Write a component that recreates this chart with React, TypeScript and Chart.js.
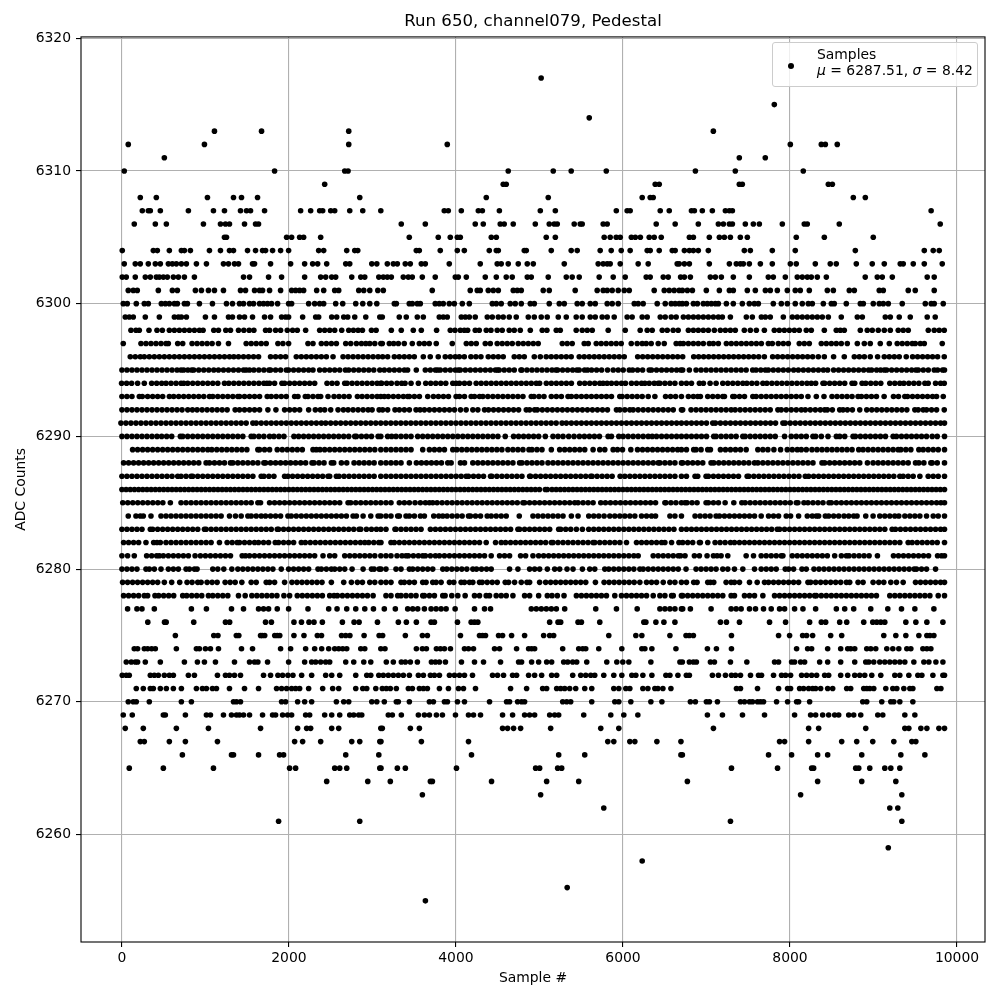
import React, { useEffect, useRef } from "react";
import { Chart, registerables } from "chart.js";
Chart.register(...registerables);

const xTicks = [0, 2000, 4000, 6000, 8000, 10000];
const yTicks = [6260, 6270, 6280, 6290, 6300, 6310, 6320];

// Sample numbers, one list per ADC code.
const s6317 = [5020];
const s6315 = [7812];
const s6314 = [5596];
const s6313 = [1108, 1672, 2716, 7082];
const s6312 = [76, 988, 2716, 3896, 8004, 8375, 8423, 8566];
const s6311 = [508, 7393, 7704];
const s6310 = [28, 1828, 2668, 2708, 4626, 5165, 5380, 5800, 6867, 7345, 8159];
const s6309 = [2428, 4566, 4602, 6386, 6434, 7393, 7429, 8459, 8507];
const s6308 = [220, 412, 1024, 1336, 1432, 1624, 2848, 4363, 5105, 6230, 6326, 6362, 8758, 8902];
const s6307 = [244, 316, 340, 460, 796, 1096, 1228, 1420, 1492, 1540, 1708, 2140, 2260, 2368, 2404, 2500, 2548, 2728, 2884, 3100, 3860, 3908, 4064, 4268, 4316, 4520, 5010, 5190, 5920, 6050, 6086, 6446, 6554, 6820, 6855, 6950, 7070, 7226, 7274, 7310, 9690];
const s6306 = [148, 400, 532, 976, 1180, 1240, 1288, 1468, 1600, 1636, 3345, 3633, 4231, 4327, 4530, 4578, 4686, 4950, 5117, 5177, 5213, 5416, 5488, 5512, 5763, 5811, 6398, 6625, 6902, 7142, 7202, 7274, 7310, 7465, 7561, 7633, 7908, 8171, 8207, 8590, 9799];
const s6305 = [1228, 1252, 1972, 2032, 2128, 2176, 2380, 3441, 3788, 3932, 4016, 4052, 4423, 4483, 5081, 5190, 5775, 5847, 5919, 5967, 6100, 6148, 6208, 6314, 6374, 6458, 6795, 6843, 7034, 7154, 7214, 7286, 7405, 7489, 8075, 8411, 8997];
const s6304 = [4, 376, 424, 568, 712, 748, 820, 1048, 1180, 1288, 1336, 1504, 1600, 1684, 1720, 1804, 1900, 1996, 2356, 2416, 2692, 2788, 2824, 3525, 3561, 3812, 4016, 4100, 4399, 4483, 4507, 4818, 4842, 5141, 5380, 5452, 5727, 5859, 5979, 6086, 6290, 6326, 6434, 6590, 6625, 6735, 6795, 6843, 6902, 7022, 7453, 7525, 7788, 8063, 8782, 9608, 9715, 9787];
const s6303 = [28, 160, 220, 316, 400, 460, 556, 604, 652, 712, 772, 892, 1012, 1216, 1276, 1348, 1396, 1564, 1588, 1780, 2020, 2188, 2284, 2344, 2452, 2680, 2728, 2992, 3052, 3178, 3250, 3298, 3393, 3453, 3585, 3633, 3920, 4291, 4494, 4542, 4626, 4746, 4854, 4926, 5297, 5703, 5763, 5811, 5847, 5967, 6182, 6302, 6649, 6673, 6735, 6795, 7034, 7274, 7357, 7405, 7441, 7513, 7645, 7788, 8004, 8075, 8303, 8482, 8554, 8794, 8985, 9129, 9320, 9356, 9476, 9608, 9823];
const s6302 = [4, 52, 160, 280, 340, 412, 448, 496, 544, 616, 676, 748, 868, 1456, 1528, 1756, 1912, 2188, 2380, 2440, 2512, 2560, 2752, 2860, 2908, 3076, 3130, 3178, 3226, 3369, 3429, 3477, 3597, 3752, 3992, 4028, 4124, 4351, 4483, 4602, 4674, 4854, 4902, 5105, 5321, 5392, 5476, 5715, 5883, 6027, 6278, 6326, 6482, 6542, 6690, 6735, 6807, 7046, 7106, 7178, 7321, 7513, 7740, 7800, 7944, 8087, 8147, 8207, 8255, 8327, 8435, 8901, 9045, 9105, 9225, 9643, 9727];
const s6301 = [76, 136, 184, 436, 604, 664, 880, 952, 1036, 1108, 1216, 1420, 1480, 1588, 1648, 1684, 1768, 1900, 2032, 2080, 2128, 2176, 2332, 2416, 2548, 2596, 2836, 2896, 2968, 3064, 3130, 3716, 4171, 4255, 4291, 4387, 4447, 4507, 4686, 4734, 4782, 5045, 5117, 5428, 5691, 5763, 5811, 5871, 5943, 6015, 6075, 6374, 6494, 6554, 6613, 6673, 6711, 6771, 6831, 6998, 7154, 7274, 7321, 7489, 7585, 7705, 7764, 7848, 7968, 8063, 8123, 8231, 8447, 8519, 8710, 8770, 9069, 9117, 9416, 9500, 9727];
const s6300 = [16, 64, 172, 268, 316, 472, 520, 568, 628, 664, 748, 784, 928, 1084, 1252, 1324, 1408, 1456, 1528, 1576, 1648, 1696, 1744, 1792, 1864, 1996, 2032, 2236, 2308, 2368, 2416, 2560, 2644, 2800, 2884, 2968, 3052, 3262, 3286, 3441, 3477, 3537, 3573, 3752, 3800, 3848, 3920, 3980, 4076, 4160, 4435, 4483, 4542, 4650, 4710, 4782, 4890, 4938, 5117, 5237, 5297, 5452, 5512, 5608, 5668, 5811, 5871, 5943, 6135, 6182, 6242, 6410, 6506, 6578, 6625, 6673, 6711, 6759, 6843, 6891, 6962, 7010, 7058, 7106, 7142, 7238, 7321, 7429, 7513, 7573, 7621, 7800, 7896, 7968, 8063, 8147, 8219, 8267, 8399, 8495, 8530, 8674, 8842, 8878, 8997, 9069, 9117, 9177, 9344, 9620, 9691, 9727, 9835];
const s6299 = [40, 88, 136, 280, 448, 628, 676, 712, 772, 1000, 1108, 1276, 1324, 1408, 1468, 1564, 1708, 1780, 1912, 1960, 1996, 2164, 2320, 2356, 2512, 2572, 2656, 2704, 2788, 2920, 3088, 3118, 3321, 3405, 3537, 3609, 3800, 3848, 3896, 4064, 4112, 4160, 4231, 4375, 4435, 4507, 4566, 4638, 4722, 4866, 4938, 5021, 5093, 5225, 5321, 5440, 5512, 5608, 5668, 5751, 5811, 5895, 6050, 6110, 6230, 6290, 6446, 6506, 6578, 6637, 6723, 6783, 6843, 6902, 6962, 7022, 7082, 7142, 7190, 7286, 7477, 7549, 7657, 7705, 7764, 7920, 8028, 8087, 8147, 8207, 8267, 8327, 8387, 8459, 8614, 8806, 8866, 9141, 9201, 9308, 9440, 9643, 9739];
const s6298 = [108, 168, 208, 324, 420, 484, 568, 628, 688, 748, 808, 868, 928, 972, 1100, 1156, 1244, 1300, 1396, 1460, 1524, 1580, 1720, 1768, 1840, 1900, 1980, 2044, 2100, 2200, 2368, 2428, 2488, 2548, 2632, 2716, 2772, 2828, 2880, 2988, 3044, 3226, 3345, 3489, 3585, 3768, 3932, 3988, 4052, 4100, 4140, 4231, 4279, 4363, 4419, 4494, 4554, 4638, 4698, 4770, 4890, 5033, 5089, 5201, 5249, 5440, 5512, 5572, 5632, 5823, 6027, 6206, 6290, 6350, 6470, 6530, 6601, 6661, 6783, 6843, 6902, 6962, 7022, 7094, 7166, 7226, 7286, 7345, 7453, 7525, 7597, 7693, 7812, 7872, 7932, 7992, 8052, 8111, 8195, 8255, 8411, 8554, 8602, 8650, 8842, 8925, 8985, 9057, 9129, 9201, 9296, 9356, 9416, 9656, 9727, 9787, 9847];
const s6297 = [16, 228, 288, 348, 408, 468, 528, 556, 668, 728, 840, 900, 960, 1020, 1080, 1156, 1276, 1488, 1548, 1608, 1668, 1728, 1868, 1928, 1996, 2228, 2288, 2388, 2448, 2508, 2568, 2680, 2740, 2808, 2868, 2920, 2968, 3028, 3100, 3118, 3202, 3254, 3310, 3381, 3477, 3561, 3621, 3680, 3764, 3956, 4124, 4183, 4243, 4351, 4411, 4494, 4554, 4614, 4674, 4746, 4806, 4866, 4926, 4985, 5273, 5332, 5392, 5536, 5584, 5680, 5739, 5799, 5859, 5919, 5979, 6099, 6170, 6230, 6278, 6338, 6422, 6494, 6637, 6685, 6723, 6783, 6843, 6902, 6962, 7034, 7082, 7142, 7238, 7297, 7357, 7417, 7477, 7537, 7597, 7657, 7741, 7788, 7860, 7920, 7980, 8111, 8171, 8231, 8375, 8435, 8495, 8554, 8614, 8686, 8806, 8890, 8961, 9081, 9189, 9284, 9344, 9404, 9464, 9500, 9560, 9608, 9823];
const s6296 = [100, 160, 220, 268, 328, 388, 448, 508, 568, 628, 688, 748, 808, 868, 928, 988, 1048, 1108, 1168, 1228, 1288, 1340, 1396, 1456, 1516, 1576, 1636, 1780, 1840, 1900, 1960, 2088, 2148, 2208, 2268, 2328, 2388, 2448, 2528, 2648, 2708, 2768, 2828, 2888, 2948, 3008, 3068, 3122, 3182, 3262, 3321, 3381, 3441, 3501, 3609, 3692, 3788, 3872, 3932, 3992, 4040, 4100, 4179, 4239, 4299, 4387, 4447, 4507, 4566, 4698, 4758, 4818, 4938, 5010, 5081, 5141, 5201, 5261, 5321, 5380, 5476, 5536, 5596, 5656, 5715, 5775, 5835, 5895, 5955, 6015, 6176, 6236, 6296, 6356, 6416, 6476, 6536, 6596, 6655, 6715, 6847, 6906, 6966, 7026, 7086, 7146, 7206, 7266, 7325, 7385, 7445, 7505, 7565, 7625, 7693, 7792, 7852, 7912, 7972, 8032, 8092, 8151, 8211, 8271, 8339, 8411, 8522, 8650, 8770, 8830, 8890, 8961, 9049, 9129, 9189, 9249, 9308, 9392, 9468, 9528, 9588, 9648, 9707, 9767, 9847];
const s6295 = [0, 60, 120, 180, 240, 300, 360, 420, 480, 540, 600, 660, 708, 740, 790, 836, 860, 920, 980, 1040, 1100, 1156, 1216, 1276, 1336, 1396, 1456, 1488, 1528, 1580, 1640, 1700, 1760, 1780, 1840, 1900, 1968, 1996, 2056, 2116, 2176, 2236, 2288, 2368, 2428, 2488, 2548, 2608, 2676, 2716, 2776, 2836, 2896, 2956, 3016, 3088, 3142, 3202, 3262, 3322, 3382, 3421, 3525, 3633, 3693, 3753, 3780, 3812, 3872, 3932, 3992, 4028, 4052, 4112, 4172, 4232, 4292, 4352, 4412, 4472, 4499, 4518, 4578, 4638, 4698, 4778, 4790, 4850, 4910, 4970, 5030, 5090, 5150, 5197, 5217, 5277, 5337, 5397, 5448, 5476, 5540, 5576, 5624, 5684, 5744, 5815, 5883, 5943, 6003, 6075, 6115, 6175, 6235, 6314, 6342, 6402, 6462, 6522, 6582, 6642, 6693, 6715, 6795, 6875, 6935, 6995, 7055, 7115, 7175, 7235, 7295, 7355, 7415, 7475, 7553, 7593, 7650, 7705, 7740, 7800, 7860, 7920, 7980, 8044, 8100, 8160, 8220, 8280, 8340, 8400, 8451, 8522, 8582, 8642, 8702, 8762, 8822, 8882, 8941, 8977, 9037, 9085, 9129, 9157, 9217, 9277, 9337, 9397, 9457, 9508, 9536, 9596, 9656, 9727, 9767, 9827, 9850];
const s6294 = [-4, 56, 116, 188, 268, 356, 416, 476, 528, 588, 648, 708, 740, 788, 848, 908, 968, 1028, 1088, 1148, 1228, 1280, 1340, 1400, 1460, 1520, 1580, 1640, 1700, 1736, 1768, 1828, 1916, 1948, 2008, 2068, 2128, 2188, 2248, 2308, 2456, 2516, 2576, 2668, 2696, 2756, 2816, 2876, 2936, 2996, 3056, 3100, 3110, 3170, 3226, 3294, 3350, 3390, 3462, 3550, 3638, 3698, 3758, 3818, 3878, 3962, 4002, 4042, 4102, 4162, 4242, 4302, 4362, 4422, 4482, 4542, 4602, 4662, 4722, 4782, 4842, 4902, 4962, 5002, 5082, 5142, 5202, 5262, 5322, 5382, 5482, 5542, 5602, 5662, 5722, 5762, 5810, 5862, 5922, 5982, 6030, 6102, 6162, 6222, 6262, 6314, 6374, 6422, 6442, 6502, 6562, 6622, 6700, 6760, 6820, 6915, 6963, 7043, 7115, 7195, 7255, 7315, 7375, 7435, 7483, 7543, 7603, 7675, 7723, 7783, 7843, 7903, 7963, 8023, 8083, 8143, 8203, 8255, 8307, 8395, 8415, 8475, 8535, 8595, 8655, 8743, 8775, 8863, 8907, 8967, 9027, 9087, 9195, 9255, 9315, 9363, 9423, 9483, 9543, 9615, 9655, 9743, 9803, 9847];
const s6293 = [0, 60, 120, 208, 244, 308, 368, 428, 488, 568, 620, 680, 740, 800, 860, 920, 980, 1048, 1088, 1148, 1208, 1268, 1328, 1388, 1408, 1468, 1528, 1588, 1648, 1740, 1788, 1848, 1908, 1968, 2068, 2108, 2196, 2228, 2288, 2348, 2380, 2468, 2540, 2600, 2660, 2720, 2820, 2876, 2936, 2996, 3056, 3100, 3142, 3190, 3250, 3310, 3370, 3422, 3442, 3502, 3562, 3662, 3730, 3790, 3850, 3910, 4002, 4042, 4102, 4182, 4222, 4282, 4322, 4382, 4442, 4502, 4562, 4622, 4682, 4742, 4802, 4902, 4934, 4994, 5054, 5142, 5202, 5262, 5342, 5382, 5442, 5502, 5562, 5622, 5682, 5742, 5802, 5862, 5962, 5990, 6050, 6110, 6170, 6230, 6302, 6382, 6510, 6570, 6630, 6700, 6783, 6843, 6895, 6927, 7015, 7075, 7135, 7195, 7215, 7315, 7335, 7395, 7455, 7555, 7595, 7655, 7715, 7775, 7835, 7895, 7955, 8015, 8075, 8135, 8215, 8315, 8407, 8503, 8563, 8623, 8683, 8743, 8815, 8855, 8915, 8975, 9035, 9127, 9239, 9299, 9375, 9407, 9467, 9527, 9587, 9647, 9707, 9755, 9835];
const s6292 = [0, 60, 120, 180, 240, 300, 360, 420, 480, 540, 600, 660, 720, 788, 844, 900, 960, 1020, 1080, 1140, 1200, 1260, 1356, 1408, 1468, 1528, 1588, 1648, 1748, 1844, 1948, 2008, 2068, 2128, 2236, 2316, 2376, 2428, 2500, 2588, 2652, 2708, 2768, 2828, 2888, 2948, 2996, 3080, 3122, 3182, 3270, 3322, 3382, 3442, 3522, 3570, 3622, 3682, 3742, 3802, 3862, 3922, 3982, 4054, 4122, 4202, 4262, 4342, 4390, 4450, 4510, 4570, 4630, 4690, 4750, 4842, 4882, 4942, 4974, 5034, 5094, 5154, 5214, 5274, 5334, 5394, 5454, 5514, 5574, 5634, 5694, 5754, 5814, 5922, 5962, 6022, 6082, 6122, 6182, 6242, 6302, 6362, 6422, 6482, 6542, 6602, 6700, 6715, 6815, 6875, 6935, 6995, 7055, 7115, 7175, 7235, 7295, 7343, 7403, 7463, 7523, 7583, 7643, 7703, 7763, 7855, 7895, 7955, 8015, 8075, 8135, 8183, 8243, 8303, 8363, 8415, 8447, 8507, 8595, 8635, 8687, 8747, 8835, 8919, 8979, 9039, 9099, 9159, 9219, 9279, 9339, 9399, 9495, 9535, 9595, 9635, 9695, 9755, 9847];
const s6291 = [-12, 48, 108, 168, 228, 288, 348, 408, 468, 528, 588, 648, 708, 768, 828, 888, 948, 1008, 1068, 1128, 1188, 1248, 1308, 1368, 1428, 1488, 1568, 1608, 1668, 1728, 1788, 1848, 1908, 1968, 2028, 2088, 2148, 2208, 2268, 2328, 2388, 2440, 2500, 2560, 2620, 2680, 2740, 2800, 2860, 2920, 2980, 3040, 3100, 3160, 3220, 3280, 3340, 3400, 3460, 3520, 3580, 3640, 3700, 3760, 3820, 3880, 3940, 4000, 4060, 4120, 4180, 4240, 4300, 4360, 4420, 4480, 4540, 4600, 4660, 4720, 4780, 4840, 4900, 4960, 5020, 5080, 5140, 5200, 5270, 5322, 5382, 5442, 5502, 5562, 5622, 5682, 5742, 5802, 5862, 5922, 5982, 6042, 6102, 6162, 6222, 6282, 6342, 6402, 6462, 6522, 6582, 6642, 6700, 6760, 6820, 6880, 6940, 7000, 7075, 7107, 7167, 7227, 7287, 7347, 7407, 7467, 7527, 7587, 7647, 7707, 7767, 7827, 7915, 7943, 8003, 8063, 8123, 8183, 8243, 8303, 8363, 8423, 8483, 8543, 8603, 8663, 8723, 8783, 8843, 8903, 8963, 9023, 9083, 9143, 9203, 9263, 9323, 9383, 9443, 9503, 9563, 9623, 9683, 9743, 9803, 9850];
const s6290 = [0, 60, 120, 180, 240, 300, 360, 420, 476, 536, 596, 700, 728, 788, 848, 908, 968, 1028, 1088, 1148, 1208, 1268, 1328, 1388, 1448, 1548, 1580, 1640, 1700, 1768, 1820, 1880, 1940, 2060, 2116, 2176, 2236, 2296, 2356, 2416, 2476, 2536, 2596, 2656, 2716, 2788, 2808, 2868, 2928, 2988, 3068, 3100, 3182, 3230, 3282, 3342, 3402, 3462, 3542, 3602, 3662, 3722, 3782, 3842, 3902, 3962, 4022, 4082, 4142, 4202, 4262, 4322, 4382, 4442, 4502, 4590, 4690, 4750, 4810, 4870, 4930, 4990, 5070, 5162, 5222, 5282, 5350, 5414, 5478, 5538, 5598, 5658, 5718, 5822, 5862, 5950, 6002, 6062, 6122, 6182, 6242, 6302, 6350, 6402, 6462, 6522, 6582, 6642, 6700, 6760, 6820, 6880, 6940, 7000, 7087, 7115, 7175, 7235, 7295, 7355, 7435, 7463, 7523, 7583, 7643, 7703, 7763, 7823, 7935, 8015, 8075, 8135, 8195, 8275, 8307, 8375, 8455, 8555, 8595, 8655, 8755, 8783, 8843, 8903, 8963, 9023, 9083, 9143, 9235, 9275, 9335, 9395, 9455, 9515, 9575, 9635, 9703, 9763, 9850];
const s6289 = [128, 188, 248, 308, 368, 428, 488, 548, 608, 668, 728, 788, 848, 908, 968, 1028, 1076, 1136, 1196, 1256, 1316, 1376, 1436, 1496, 1628, 1648, 1708, 1768, 1860, 1920, 1980, 2040, 2100, 2160, 2288, 2328, 2372, 2428, 2488, 2548, 2608, 2668, 2728, 2788, 2848, 2908, 2968, 3028, 3100, 3162, 3222, 3282, 3342, 3402, 3462, 3602, 3682, 3742, 3802, 3862, 3962, 4010, 4070, 4130, 4190, 4250, 4310, 4370, 4430, 4490, 4550, 4622, 4682, 4742, 4802, 4874, 4910, 4970, 5030, 5142, 5242, 5302, 5362, 5422, 5482, 5542, 5642, 5722, 5782, 5882, 5934, 5994, 6094, 6174, 6234, 6294, 6354, 6414, 6474, 6534, 6594, 6654, 6700, 6760, 6847, 6875, 6935, 7015, 7047, 7167, 7227, 7287, 7347, 7407, 7475, 7615, 7675, 7735, 7807, 7887, 7967, 8027, 8087, 8135, 8195, 8263, 8323, 8383, 8443, 8503, 8563, 8623, 8683, 8743, 8823, 8875, 8935, 8995, 9055, 9115, 9175, 9235, 9295, 9327, 9387, 9447, 9543, 9595, 9655, 9715, 9775, 9850];
const s6288 = [20, 80, 140, 200, 260, 320, 380, 440, 500, 560, 620, 680, 740, 800, 860, 920, 1008, 1048, 1108, 1168, 1228, 1300, 1328, 1388, 1448, 1508, 1568, 1628, 1700, 1720, 1780, 1840, 1900, 1960, 2020, 2080, 2140, 2200, 2276, 2300, 2360, 2420, 2508, 2536, 2628, 2692, 2780, 2840, 2900, 2960, 3020, 3100, 3162, 3222, 3282, 3342, 3442, 3526, 3586, 3646, 3706, 3766, 3826, 3902, 3942, 4054, 4102, 4202, 4262, 4322, 4382, 4442, 4502, 4562, 4622, 4682, 4762, 4790, 4850, 4910, 4970, 5030, 5102, 5162, 5222, 5282, 5342, 5402, 5462, 5522, 5582, 5642, 5702, 5762, 5822, 5882, 5942, 6002, 6062, 6122, 6182, 6242, 6302, 6362, 6422, 6442, 6502, 6562, 6622, 6700, 6715, 6775, 6835, 6895, 6955, 7055, 7087, 7147, 7207, 7267, 7327, 7387, 7447, 7507, 7575, 7615, 7675, 7735, 7795, 7855, 7915, 7975, 8035, 8095, 8155, 8215, 8275, 8383, 8415, 8475, 8535, 8595, 8655, 8715, 8775, 8835, 8927, 8995, 9055, 9115, 9175, 9235, 9295, 9355, 9415, 9503, 9543, 9603, 9687, 9703, 9763, 9850];
const s6287 = [0, 60, 120, 180, 240, 300, 360, 420, 480, 540, 600, 668, 708, 768, 828, 848, 908, 968, 1028, 1088, 1148, 1208, 1268, 1328, 1388, 1448, 1508, 1568, 1668, 1700, 1760, 1820, 1948, 1988, 2044, 2104, 2164, 2224, 2284, 2344, 2404, 2468, 2488, 2568, 2600, 2660, 2720, 2780, 2840, 2900, 2960, 3020, 3100, 3162, 3222, 3282, 3342, 3402, 3462, 3522, 3582, 3642, 3702, 3762, 3822, 3882, 3942, 4002, 4062, 4122, 4150, 4210, 4270, 4330, 4414, 4430, 4490, 4550, 4610, 4670, 4730, 4790, 4882, 4894, 4954, 5014, 5074, 5134, 5194, 5254, 5314, 5374, 5434, 5494, 5554, 5614, 5630, 5690, 5750, 5810, 5870, 5966, 6022, 6082, 6142, 6202, 6262, 6322, 6382, 6442, 6502, 6562, 6622, 6700, 6760, 6863, 6895, 6995, 7023, 7083, 7143, 7203, 7263, 7323, 7383, 7487, 7507, 7567, 7627, 7687, 7747, 7807, 7867, 7927, 7987, 8047, 8107, 8183, 8223, 8283, 8343, 8403, 8463, 8523, 8583, 8643, 8703, 8763, 8823, 8883, 8943, 9003, 9063, 9123, 9183, 9243, 9315, 9355, 9415, 9475, 9555, 9655, 9715, 9775, 9850];
const s6286 = [0, 50, 100, 150, 200, 250, 300, 350, 400, 450, 500, 550, 600, 650, 700, 750, 800, 850, 900, 950, 1000, 1050, 1100, 1150, 1200, 1250, 1300, 1350, 1400, 1450, 1500, 1550, 1600, 1650, 1700, 1750, 1800, 1850, 1900, 1950, 2000, 2050, 2100, 2150, 2200, 2250, 2300, 2350, 2400, 2450, 2500, 2550, 2600, 2650, 2700, 2750, 2800, 2850, 2900, 2950, 3000, 3050, 3100, 3150, 3200, 3250, 3300, 3350, 3400, 3450, 3500, 3550, 3600, 3650, 3700, 3750, 3800, 3850, 3900, 3950, 4000, 4050, 4100, 4150, 4200, 4250, 4300, 4350, 4400, 4450, 4500, 4550, 4600, 4650, 4700, 4750, 4800, 4850, 4900, 4950, 5000, 5070, 5094, 5150, 5200, 5250, 5300, 5350, 5400, 5450, 5500, 5550, 5600, 5650, 5700, 5750, 5800, 5850, 5900, 5950, 6000, 6050, 6100, 6150, 6200, 6250, 6300, 6350, 6400, 6450, 6500, 6550, 6600, 6650, 6700, 6750, 6800, 6850, 6900, 6950, 7000, 7050, 7100, 7150, 7200, 7250, 7300, 7350, 7400, 7450, 7500, 7550, 7600, 7650, 7700, 7750, 7800, 7850, 7900, 7950, 8000, 8050, 8100, 8150, 8200, 8250, 8300, 8350, 8400, 8450, 8500, 8550, 8600, 8650, 8700, 8750, 8800, 8850, 8900, 8950, 9000, 9050, 9100, 9150, 9200, 9250, 9300, 9350, 9400, 9450, 9500, 9550, 9600, 9650, 9700, 9750, 9800, 9850];
const s6285 = [10, 70, 130, 190, 250, 310, 370, 430, 490, 580, 708, 768, 828, 888, 948, 1008, 1068, 1128, 1188, 1248, 1308, 1368, 1428, 1488, 1548, 1628, 1660, 1768, 1828, 1888, 1948, 2008, 2068, 2128, 2188, 2248, 2308, 2368, 2428, 2488, 2548, 2608, 2708, 2740, 2800, 2860, 2920, 2980, 3040, 3100, 3162, 3222, 3322, 3382, 3442, 3510, 3574, 3634, 3682, 3722, 3774, 3834, 3894, 3954, 4014, 4074, 4134, 4194, 4254, 4314, 4374, 4434, 4494, 4554, 4614, 4674, 4734, 4802, 4822, 4882, 4942, 5002, 5062, 5122, 5182, 5242, 5302, 5362, 5422, 5462, 5522, 5582, 5642, 5734, 5790, 5850, 5910, 5970, 6030, 6090, 6150, 6210, 6270, 6330, 6390, 6502, 6514, 6574, 6634, 6700, 6743, 6767, 6827, 6887, 6995, 7023, 7083, 7143, 7223, 7327, 7423, 7463, 7523, 7583, 7643, 7703, 7763, 7823, 7883, 7943, 8003, 8075, 8095, 8167, 8215, 8275, 8335, 8395, 8467, 8495, 8555, 8615, 8675, 8735, 8795, 8855, 8915, 8975, 9035, 9095, 9155, 9215, 9275, 9335, 9395, 9455, 9515, 9575, 9635, 9695, 9755, 9807, 9850];
const s6284 = [76, 168, 220, 256, 348, 468, 528, 588, 648, 708, 768, 828, 888, 948, 1008, 1068, 1128, 1188, 1288, 1360, 1428, 1508, 1548, 1608, 1668, 1720, 1780, 1840, 1900, 1988, 2028, 2088, 2148, 2208, 2268, 2328, 2388, 2448, 2508, 2568, 2628, 2688, 2768, 2808, 2888, 2980, 3068, 3100, 3162, 3222, 3302, 3322, 3402, 3442, 3502, 3574, 3622, 3734, 3794, 3842, 3894, 3954, 4014, 4074, 4150, 4174, 4234, 4294, 4374, 4422, 4482, 4542, 4602, 4758, 4922, 4982, 5042, 5102, 5162, 5222, 5282, 5382, 5462, 5590, 5650, 5710, 5774, 5842, 5902, 5962, 6022, 6082, 6142, 6222, 6282, 6342, 6390, 6562, 6622, 6700, 6863, 6923, 6983, 7043, 7115, 7155, 7215, 7275, 7335, 7395, 7455, 7515, 7575, 7655, 7743, 7803, 7863, 7955, 8007, 8103, 8207, 8267, 8315, 8343, 8423, 8463, 8523, 8583, 8647, 8703, 8763, 8803, 8907, 8995, 9075, 9135, 9195, 9255, 9303, 9375, 9435, 9495, 9555, 9635, 9715, 9775, 9850];
const s6283 = [0, 60, 120, 180, 240, 340, 368, 428, 488, 548, 608, 668, 728, 788, 848, 908, 988, 1008, 1068, 1128, 1188, 1248, 1308, 1368, 1428, 1488, 1548, 1608, 1668, 1728, 1788, 1860, 1876, 1936, 1996, 2056, 2116, 2176, 2236, 2296, 2356, 2416, 2476, 2536, 2596, 2656, 2716, 2776, 2840, 2860, 2928, 2988, 3048, 3100, 3162, 3270, 3282, 3342, 3402, 3462, 3522, 3582, 3694, 3754, 3814, 3874, 3934, 3994, 4054, 4114, 4174, 4234, 4294, 4354, 4414, 4474, 4534, 4594, 4654, 4742, 4762, 4822, 4882, 4942, 5002, 5062, 5122, 5230, 5254, 5314, 5374, 5442, 5514, 5590, 5650, 5710, 5770, 5830, 5890, 5950, 6010, 6070, 6130, 6190, 6250, 6310, 6370, 6430, 6490, 6550, 6610, 6700, 6760, 6820, 6880, 6940, 7000, 7060, 7120, 7180, 7240, 7300, 7360, 7420, 7480, 7540, 7600, 7660, 7720, 7780, 7847, 7875, 7935, 7995, 8055, 8115, 8175, 8235, 8295, 8355, 8415, 8475, 8535, 8595, 8655, 8715, 8775, 8835, 8895, 8955, 9015, 9075, 9135, 9223, 9263, 9323, 9383, 9443, 9503, 9563, 9623, 9683, 9743, 9803, 9850];
const s6282 = [20, 80, 140, 200, 288, 380, 420, 460, 528, 588, 648, 708, 768, 828, 888, 948, 1008, 1068, 1168, 1260, 1320, 1380, 1408, 1468, 1528, 1588, 1636, 1696, 1756, 1836, 1876, 1936, 1996, 2056, 2148, 2196, 2256, 2316, 2376, 2436, 2496, 2556, 2616, 2676, 2736, 2796, 2856, 2908, 2956, 3016, 3076, 3102, 3222, 3262, 3322, 3382, 3442, 3502, 3562, 3622, 3682, 3742, 3802, 3862, 3922, 3982, 4042, 4102, 4162, 4222, 4282, 4362, 4474, 4542, 4594, 4654, 4714, 4774, 4834, 4894, 4954, 5014, 5074, 5142, 5162, 5222, 5282, 5342, 5402, 5462, 5522, 5582, 5642, 5662, 5722, 5782, 5842, 5902, 5962, 6042, 6162, 6222, 6282, 6342, 6402, 6462, 6502, 6582, 6670, 6715, 6775, 6835, 6915, 6927, 7015, 7103, 7163, 7223, 7287, 7335, 7395, 7455, 7515, 7575, 7635, 7695, 7755, 7815, 7875, 7935, 7995, 8055, 8115, 8175, 8235, 8295, 8355, 8415, 8475, 8535, 8595, 8655, 8715, 8775, 8835, 8895, 8955, 9015, 9075, 9135, 9195, 9255, 9315, 9415, 9463, 9523, 9583, 9643, 9703, 9763, 9850];
const s6281 = [0, 68, 148, 296, 356, 416, 448, 496, 556, 616, 676, 736, 796, 876, 940, 1000, 1060, 1120, 1180, 1240, 1300, 1440, 1480, 1528, 1588, 1648, 1708, 1768, 1828, 1888, 1948, 2008, 2068, 2128, 2188, 2248, 2308, 2408, 2488, 2548, 2668, 2728, 2788, 2848, 2908, 2968, 3028, 3100, 3162, 3222, 3294, 3354, 3402, 3430, 3490, 3550, 3602, 3634, 3694, 3754, 3802, 3862, 3922, 3982, 4042, 4102, 4162, 4222, 4282, 4342, 4422, 4522, 4582, 4642, 4774, 4834, 4922, 4990, 5050, 5110, 5170, 5230, 5290, 5350, 5410, 5470, 5530, 5590, 5650, 5710, 5770, 5830, 5890, 5950, 6010, 6070, 6130, 6182, 6362, 6422, 6482, 6542, 6602, 6662, 6690, 6743, 6855, 6915, 7007, 7083, 7127, 7175, 7255, 7475, 7563, 7655, 7715, 7775, 7835, 7895, 7915, 8027, 8087, 8147, 8207, 8267, 8327, 8387, 8447, 8535, 8615, 8675, 8707, 8767, 8827, 8887, 8947, 9047, 9239, 9299, 9359, 9419, 9479, 9539, 9599, 9659, 9767, 9815, 9850];
const s6280 = [0, 60, 120, 180, 288, 328, 388, 468, 556, 616, 676, 768, 808, 868, 900, 1088, 1148, 1220, 1316, 1388, 1448, 1508, 1568, 1628, 1688, 1748, 1808, 1908, 1996, 2056, 2116, 2176, 2236, 2348, 2388, 2448, 2508, 2548, 2608, 2668, 2756, 2888, 2988, 3020, 3080, 3102, 3162, 3282, 3342, 3442, 3482, 3542, 3602, 3662, 3722, 3842, 3890, 3950, 4010, 4070, 4130, 4202, 4246, 4306, 4366, 4422, 4642, 4742, 4882, 4942, 5002, 5094, 5182, 5242, 5330, 5402, 5514, 5602, 5662, 5782, 5830, 5890, 5950, 6010, 6070, 6130, 6202, 6242, 6302, 6362, 6422, 6482, 6542, 6602, 6662, 6755, 6875, 6935, 6995, 7055, 7115, 7195, 7255, 7335, 7435, 7575, 7655, 7715, 7775, 7835, 7943, 7983, 8043, 8143, 8195, 8287, 8347, 8407, 8467, 8527, 8587, 8647, 8707, 8767, 8827, 8887, 8947, 9007, 9067, 9127, 9187, 9247, 9307, 9367, 9427, 9487, 9515, 9575, 9635, 9743];
const s6279 = [8, 68, 128, 188, 248, 308, 368, 428, 508, 596, 692, 780, 840, 908, 948, 1020, 1080, 1140, 1236, 1296, 1356, 1436, 1548, 1608, 1728, 1768, 1828, 1948, 2036, 2096, 2156, 2216, 2276, 2336, 2396, 2508, 2656, 2748, 2820, 2880, 2968, 3028, 3102, 3162, 3222, 3342, 3382, 3442, 3502, 3602, 3642, 3722, 3762, 3822, 3922, 3974, 4062, 4102, 4162, 4202, 4282, 4314, 4374, 4434, 4494, 4590, 4630, 4702, 4782, 4850, 4882, 5002, 5074, 5134, 5194, 5254, 5314, 5374, 5434, 5494, 5554, 5670, 5774, 5834, 5894, 5954, 6014, 6074, 6134, 6202, 6282, 6342, 6402, 6482, 6562, 6622, 6700, 6760, 6847, 6887, 7015, 7047, 7087, 7235, 7295, 7335, 7395, 7515, 7607, 7695, 7743, 7803, 7863, 7923, 7983, 8043, 8103, 8215, 8247, 8307, 8367, 8427, 8487, 8547, 8607, 8675, 8715, 8815, 8875, 8995, 9063, 9123, 9207, 9275, 9355, 9503, 9563, 9623, 9683, 9743, 9803, 9850];
const s6278 = [20, 80, 140, 200, 268, 308, 396, 440, 500, 560, 620, 728, 776, 836, 896, 956, 1036, 1088, 1148, 1208, 1268, 1396, 1476, 1556, 1616, 1676, 1736, 1796, 1856, 1940, 2008, 2100, 2160, 2220, 2280, 2340, 2400, 2488, 2540, 2580, 2640, 2700, 2760, 2820, 2880, 2940, 3008, 3162, 3222, 3302, 3342, 3402, 3462, 3522, 3602, 3622, 3682, 3742, 3842, 3870, 3950, 4022, 4110, 4222, 4282, 4362, 4402, 4482, 4542, 4602, 4682, 4822, 4882, 4990, 5094, 5150, 5214, 5294, 5442, 5502, 5562, 5622, 5682, 5742, 5802, 5902, 5982, 6042, 6102, 6162, 6222, 6282, 6362, 6442, 6502, 6582, 6602, 6700, 6715, 6775, 6835, 6895, 6955, 7015, 7075, 7135, 7195, 7295, 7335, 7455, 7515, 7575, 7675, 7815, 7875, 7935, 7995, 8055, 8115, 8175, 8235, 8295, 8315, 8375, 8435, 8495, 8555, 8615, 8675, 8735, 8795, 8855, 8915, 8975, 9035, 9195, 9255, 9315, 9375, 9435, 9495, 9555, 9615, 9675, 9775, 9850];
const s6277 = [68, 180, 240, 388, 832, 1012, 1312, 1456, 1636, 1696, 1756, 1860, 1996, 2228, 2476, 2576, 2692, 2800, 2908, 3012, 3142, 3274, 3422, 3482, 3542, 3622, 3702, 3762, 3822, 3882, 3990, 4222, 4342, 4414, 4902, 4962, 5022, 5082, 5142, 5202, 5302, 5674, 5922, 6170, 6442, 6502, 6562, 6622, 6700, 6715, 6807, 7055, 7295, 7355, 7415, 7515, 7587, 7683, 7775, 7875, 7935, 8055, 8155, 8307, 8555, 8655, 8763, 8967, 9171, 9335, 9495, 9723];
const s6276 = [310, 510, 530, 860, 1240, 1290, 1720, 1790, 2060, 2150, 2240, 2300, 2400, 2640, 2780, 2840, 3060, 3310, 3406, 3526, 3702, 3742, 4018, 4182, 4222, 4262, 5122, 5222, 5254, 5462, 5502, 5722, 6250, 6274, 6394, 6490, 6622, 7167, 7239, 7395, 7755, 7947, 8235, 8375, 8427, 8595, 8679, 8883, 8991, 9039, 9087, 9135, 9387, 9507, 9639, 9831];
const s6275 = [640, 1100, 1150, 1370, 1400, 1660, 1680, 1710, 1830, 1860, 1890, 2060, 2180, 2340, 2390, 2630, 2680, 2730, 2900, 3080, 3122, 3394, 3598, 3658, 4054, 4282, 4318, 4354, 4510, 4558, 4666, 4822, 5050, 5122, 5170, 5830, 6154, 6226, 6562, 6755, 6795, 6843, 7299, 7863, 7995, 8151, 8199, 8271, 8487, 8619, 9123, 9267, 9387, 9543, 9639, 9675, 9723];
const s6274 = [148, 188, 268, 308, 356, 400, 652, 892, 928, 1000, 1060, 1156, 1432, 1564, 1900, 2020, 2200, 2308, 2392, 2476, 2548, 2596, 2644, 2692, 2860, 2908, 3100, 3150, 3526, 3598, 3646, 3766, 3814, 3862, 3934, 4102, 4150, 4210, 4462, 4522, 4726, 4870, 4906, 4942, 5278, 5470, 5518, 5554, 5710, 5986, 6226, 6262, 6346, 6634, 7011, 7119, 7299, 8079, 8211, 8259, 8451, 8607, 8691, 8727, 8775, 8919, 8967, 9027, 9159, 9231, 9303, 9399, 9447, 9591, 9639, 9687];
const s6273 = [52, 112, 160, 188, 280, 460, 748, 904, 988, 1120, 1348, 1528, 1588, 1628, 1744, 1996, 2188, 2272, 2320, 2380, 2440, 2488, 2680, 2776, 2896, 2980, 3166, 3250, 3346, 3394, 3454, 3538, 3706, 3754, 3802, 3874, 4066, 4222, 4330, 4534, 4750, 4786, 4906, 4990, 5086, 5146, 5290, 5338, 5398, 5446, 5566, 5806, 5926, 5998, 6070, 6334, 6682, 6711, 6795, 6843, 6879, 7047, 7095, 7287, 7483, 7815, 7863, 8019, 8055, 8127, 8175, 8355, 8451, 8607, 8775, 8907, 8943, 9003, 9075, 9135, 9195, 9255, 9315, 9375, 9483, 9603, 9663, 9747, 9831];
const s6272 = [4, 52, 88, 340, 388, 436, 508, 568, 616, 796, 868, 1144, 1240, 1288, 1348, 1420, 1696, 1780, 1868, 1924, 1988, 2048, 2152, 2272, 2440, 2512, 2608, 2800, 2932, 2980, 3076, 3130, 3190, 3250, 3310, 3370, 3442, 3550, 3610, 3694, 3742, 3802, 3922, 3982, 4042, 4102, 4198, 4438, 4498, 4570, 4678, 4726, 4870, 4942, 5026, 5146, 5206, 5398, 5494, 5554, 5614, 5662, 5770, 5890, 5986, 6106, 6154, 6238, 6346, 6514, 6562, 6658, 6759, 6795, 7071, 7143, 7227, 7299, 7347, 7407, 7527, 7623, 7659, 7803, 7899, 7947, 8007, 8139, 8199, 8259, 8319, 8415, 8463, 8607, 8691, 8775, 8835, 8895, 8979, 9087, 9255, 9315, 9423, 9531, 9579, 9711, 9831, 9850];
const s6271 = [172, 256, 340, 376, 460, 532, 616, 712, 892, 964, 1012, 1084, 1132, 1288, 1468, 1636, 1852, 1912, 1972, 2032, 2080, 2128, 2236, 2404, 2524, 2596, 2800, 2884, 2932, 3040, 3118, 3166, 3214, 3286, 3430, 3478, 3562, 3610, 3658, 3802, 3910, 4030, 4090, 4234, 4654, 4846, 5038, 5086, 5206, 5254, 5302, 5362, 5434, 5542, 5626, 5890, 5950, 6034, 6082, 6238, 6298, 6382, 6418, 6478, 6574, 7359, 7407, 7611, 7863, 7971, 8007, 8115, 8163, 8223, 8271, 8307, 8367, 8451, 8511, 8679, 8727, 8883, 8919, 8955, 9003, 9147, 9231, 9279, 9363, 9435, 9471, 9759, 9807];
const s6270 = [76, 136, 172, 328, 712, 832, 1336, 1372, 1420, 1912, 1960, 2104, 2188, 2272, 2568, 2656, 2716, 2992, 3052, 3142, 3286, 3310, 3442, 3682, 3730, 3862, 3898, 4018, 4102, 4402, 4606, 4642, 4738, 4786, 4822, 5278, 5326, 5374, 5626, 5902, 5950, 6094, 6334, 6466, 6807, 6867, 6999, 7035, 7131, 7407, 7455, 7515, 7551, 7611, 7647, 7683, 7839, 7971, 8079, 8103, 8235, 8871, 8919, 9099, 9207, 9243, 9315, 9471];
const s6269 = [16, 124, 496, 520, 760, 1012, 1060, 1216, 1312, 1372, 1408, 1456, 1528, 1684, 1804, 1840, 1924, 1984, 2032, 2200, 2248, 2428, 2512, 2608, 2728, 2776, 2836, 2872, 3190, 3238, 3346, 3550, 3622, 3682, 3766, 3838, 3994, 4150, 4210, 4294, 4558, 4678, 4822, 4882, 4942, 5122, 5182, 5230, 5530, 5854, 6010, 6178, 7011, 7191, 7431, 7695, 8055, 8247, 8307, 8391, 8463, 8535, 8583, 8703, 8763, 8847, 9051, 9111, 9375, 9495];
const s6268 = [40, 256, 652, 1036, 1660, 2104, 2212, 2260, 2512, 2596, 3100, 3118, 3454, 3562, 4558, 4618, 4690, 4774, 5134, 5734, 5950, 7083, 8223, 8343, 8907, 9375, 9423, 9567, 9639, 9783, 9850];
const s6267 = [220, 268, 568, 760, 1144, 2068, 2164, 2380, 2752, 2848, 3088, 3102, 3586, 4150, 5818, 5890, 6082, 6142, 6406, 6694, 7875, 7935, 8223, 8619, 8799, 8991, 9243, 9459, 9507];
const s6266 = [724, 1312, 1336, 1636, 1888, 1936, 2680, 3076, 4186, 5230, 5542, 6694, 6711, 7743, 8019, 8331, 8451, 8859, 9327, 9615];
const s6265 = [88, 496, 1096, 2008, 2080, 2548, 2608, 2692, 3088, 3102, 3298, 3394, 4006, 4954, 5002, 5218, 5266, 7299, 7851, 8259, 8283, 8787, 8823, 8955, 9135, 9207, 9315];
const s6264 = [2452, 2944, 3214, 3694, 3718, 4426, 5086, 5470, 6771, 8331, 8859, 9267];
const s6263 = [3598, 5014, 8127, 9339];
const s6262 = [5770, 9195, 9291];
const s6261 = [1876, 2848, 7287, 9339];
const s6259 = [9177];
const s6258 = [6230];
const s6256 = [5332];
const s6255 = [3634];

const rows: [number, number[]][] = [
  [6317, s6317], [6315, s6315], [6314, s6314], [6313, s6313], [6312, s6312], [6311, s6311], [6310, s6310], [6309, s6309],
  [6308, s6308], [6307, s6307], [6306, s6306], [6305, s6305], [6304, s6304], [6303, s6303], [6302, s6302], [6301, s6301],
  [6300, s6300], [6299, s6299], [6298, s6298], [6297, s6297], [6296, s6296], [6295, s6295], [6294, s6294], [6293, s6293],
  [6292, s6292], [6291, s6291], [6290, s6290], [6289, s6289], [6288, s6288], [6287, s6287], [6286, s6286], [6285, s6285],
  [6284, s6284], [6283, s6283], [6282, s6282], [6281, s6281], [6280, s6280], [6279, s6279], [6278, s6278], [6277, s6277],
  [6276, s6276], [6275, s6275], [6274, s6274], [6273, s6273], [6272, s6272], [6271, s6271], [6270, s6270], [6269, s6269],
  [6268, s6268], [6267, s6267], [6266, s6266], [6265, s6265], [6264, s6264], [6263, s6263], [6262, s6262], [6261, s6261],
  [6259, s6259], [6258, s6258], [6256, s6256], [6255, s6255],
];
const FONT = "'DejaVu Sans'";

export default function App() {
  const ref = useRef<HTMLCanvasElement>(null);
  useEffect(() => {
    document.body.style.margin = "0";
    const points = rows.flatMap(([v, xs]) => xs.map((x) => ({ x, y: v })));
    const frame = {
      id: "frame",
      afterDatasetsDraw(c: any) {
        const a = c.chartArea, g = c.ctx;
        g.save();
        g.strokeStyle = "#000";
        g.lineWidth = 1.1;
        g.strokeRect(a.left, a.top, a.right - a.left, a.bottom - a.top);
        g.restore();
      },
    };
    const chart = new Chart(ref.current!, {
      type: "scatter",
      data: { datasets: [{ label: "Samples", data: points, backgroundColor: "#000", borderWidth: 0, pointRadius: 2.8, pointHoverRadius: 2.8 }] },
      plugins: [frame],
      options: {
        animation: false, responsive: false, devicePixelRatio: 1,
        layout: { padding: { left: 0, right: 15, top: 0, bottom: 0 } },
        plugins: {
          legend: { display: false }, tooltip: { enabled: false },
          title: { display: true, text: "Run 650, channel079, Pedestal", color: "#000", fullSize: false, font: { family: FONT, size: 16.6, weight: "normal" }, padding: { top: 12, bottom: 5 } },
        },
        scales: {
          x: {
            type: "linear", min: -490, max: 10335,
            afterFit(s: any) { s.height = 58; },
            afterBuildTicks(s: any) { s.ticks = xTicks.map((value) => ({ value })); },
            grid: { color: "#b0b0b0", lineWidth: 1.1, tickLength: 5, tickColor: "#000", tickWidth: 1.1 },
            border: { display: false },
            ticks: { color: "#000", font: { family: FONT, size: 13.9 }, padding: 3, maxRotation: 0, callback: (v: any) => String(v) },
            title: { display: true, text: "Sample #", color: "#000", font: { family: FONT, size: 13.9 }, padding: { top: 4, bottom: 13 } },
          },
          y: {
            type: "linear", min: 6251.9, max: 6320.1,
            afterFit(s: any) { s.width = 81; },
            afterBuildTicks(s: any) { s.ticks = yTicks.map((value) => ({ value })); },
            grid: { color: "#b0b0b0", lineWidth: 1.1, tickLength: 5, tickColor: "#000", tickWidth: 1.1 },
            border: { display: false },
            ticks: { color: "#000", font: { family: FONT, size: 13.9 }, padding: 5, callback: (v: any) => String(v) },
            title: { display: true, text: "ADC Counts", color: "#000", font: { family: FONT, size: 13.9 }, padding: { top: 13, bottom: 0 } },
          },
        },
      } as any,
    });
    return () => chart.destroy();
  }, []);
  return (
    <div style={{ position: "relative", width: 1000, height: 1000, fontFamily: FONT, color: "#000" }}>
      <canvas ref={ref} width={1000} height={1000} style={{ display: "block" }} />
      <div style={{ position: "absolute", left: 772, top: 42, width: 206, height: 45, boxSizing: "border-box", background: "rgba(255,255,255,0.8)", border: "1px solid #ccc", borderRadius: 3, fontSize: 13.9, lineHeight: "16px" }}>
        <span style={{ position: "absolute", left: 15, top: 20, width: 6, height: 6, borderRadius: "50%", background: "#000" }} />
        <div style={{ position: "absolute", left: 44, top: 3, whiteSpace: "pre" }}>Samples</div>
        <div style={{ position: "absolute", left: 44, top: 19, whiteSpace: "pre" }}><i>μ</i> = 6287.51, <i>σ</i> = 8.42</div>
      </div>
    </div>
  );
}
